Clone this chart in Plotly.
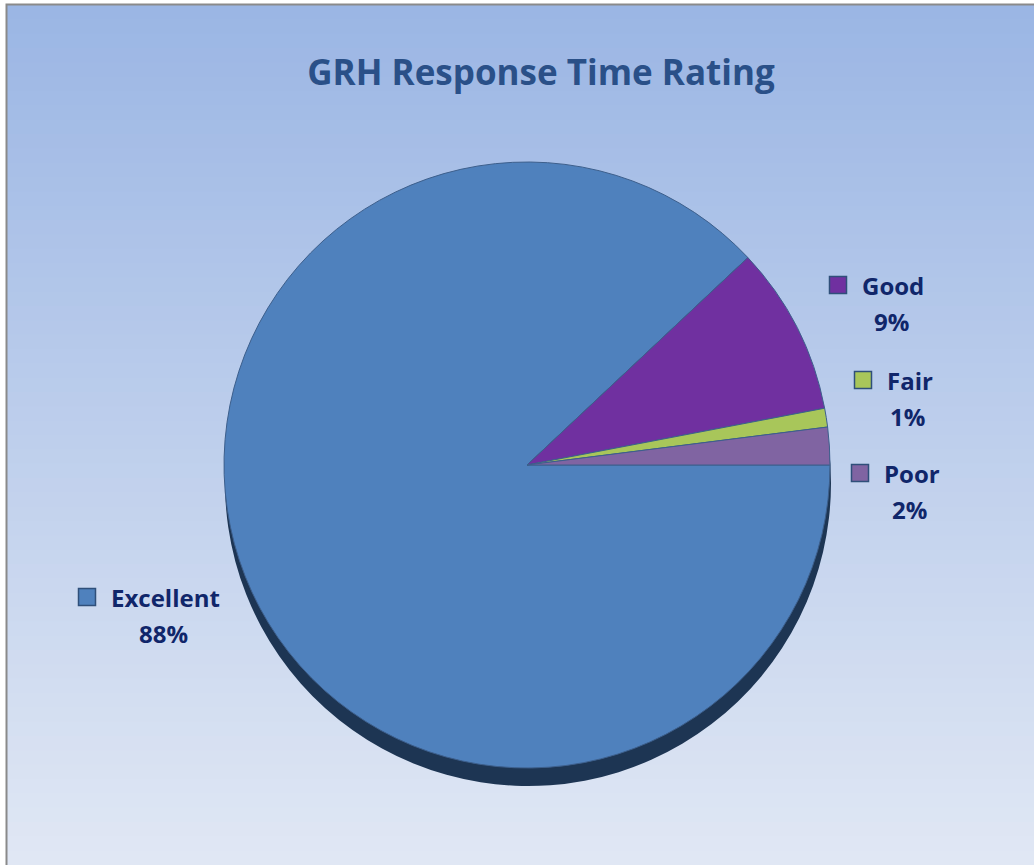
import plotly.graph_objects as go

# ---- data ----
categories = ["Excellent", "Good", "Fair", "Poor"]
values = [88, 9, 1, 2]
slice_colors = ["#4f81bd", "#7030a0", "#a8c65a", "#8064a2"]
pct_labels = ["88%", "9%", "1%", "2%"]

W, H = 1034, 865
CX, CY, R = 527, 465, 303      # pie centre / radius in px
DEPTH = 18                      # 3-D extrusion depth in px

def px_to_paper_x(x):
    return x / W

def px_to_paper_y(y):
    return 1 - y / H

# approximate advance widths (em) of Open Sans Bold, for centring the % line
CHAR_EM = {"E": .56, "x": .57, "c": .51, "e": .60, "l": .30, "n": .64, "t": .43,
           "G": .73, "o": .62, "d": .63, "F": .57, "a": .59, "i": .30, "r": .43, "P": .63}

def text_width(s, size):
    return sum(CHAR_EM.get(ch, .6) for ch in s) * size

fig = go.Figure()

# dark side (extrusion) of the 3-D pie
fig.add_trace(go.Pie(
    labels=categories, values=values, sort=False, direction="clockwise", rotation=90,
    marker=dict(colors=["#1d3553"] * 4, line=dict(width=0)),
    textinfo="none", hoverinfo="skip", showlegend=False,
    domain=dict(x=[px_to_paper_x(CX - R + 1), px_to_paper_x(CX + R + 1)],
                y=[px_to_paper_y(CY + DEPTH + R), px_to_paper_y(CY + DEPTH - R)]),
))

# top face
fig.add_trace(go.Pie(
    labels=categories, values=values, sort=False, direction="clockwise", rotation=90,
    marker=dict(colors=slice_colors, line=dict(color="#3d5f8c", width=1)),
    textinfo="none", showlegend=False,
    domain=dict(x=[px_to_paper_x(CX - R), px_to_paper_x(CX + R)],
                y=[px_to_paper_y(CY + R), px_to_paper_y(CY - R)]),
))

# gradient background bands
shapes = []
top = (155, 182, 228)
bot = (224, 231, 244)
n = 60
for i in range(n):
    t = i / (n - 1)
    c = tuple(round(top[k] + (bot[k] - top[k]) * t) for k in range(3))
    shapes.append(dict(type="rect", xref="paper", yref="paper", layer="below",
                       x0=px_to_paper_x(7), x1=1.01,
                       y0=px_to_paper_y(5 + (i + 1) * (H - 5) / n) - 0.002,
                       y1=px_to_paper_y(5 + i * (H - 5) / n),
                       fillcolor="rgb(%d,%d,%d)" % c, line=dict(width=0)))
# frame
shapes.append(dict(type="rect", xref="paper", yref="paper", layer="below",
                   x0=px_to_paper_x(6.5), x1=1.02, y0=-0.02, y1=px_to_paper_y(4.5),
                   line=dict(color="#8a8a8a", width=2), fillcolor="rgba(0,0,0,0)"))

# data labels with legend keys (Excel-style)
label_pos = {  # (key-square centre x, first-line y) in px
    "Excellent": (87, 597),
    "Good": (838, 285),
    "Fair": (863, 380),
    "Poor": (860, 473),
}
LINE = 36
FS = 24
font = dict(family="Open Sans, Lato, sans-serif", size=FS, color="#10266a")
annotations = []
for cat, col, pct in zip(categories, slice_colors, pct_labels):
    kx, ky = label_pos[cat]
    shapes.append(dict(type="rect", xref="paper", yref="paper",
                       x0=px_to_paper_x(kx - 8.5), x1=px_to_paper_x(kx + 8.5),
                       y0=px_to_paper_y(ky + 8.5), y1=px_to_paper_y(ky - 8.5),
                       fillcolor=col, line=dict(color="#2f4f7a", width=1.5)))
    tx = kx + 22
    annotations.append(dict(xref="paper", yref="paper", x=px_to_paper_x(tx),
                            y=px_to_paper_y(ky), xanchor="left", yanchor="middle",
                            text="<b>%s</b>" % cat, showarrow=False, font=font))
    annotations.append(dict(xref="paper", yref="paper",
                            x=px_to_paper_x(tx + text_width(cat, FS) / 2),
                            y=px_to_paper_y(ky + LINE), xanchor="center", yanchor="middle",
                            text="<b>%s</b>" % pct, showarrow=False, font=font))

fig.update_layout(
    width=W, height=H,
    margin=dict(l=0, r=0, t=0, b=0),
    paper_bgcolor="white", plot_bgcolor="white",
    title=dict(text="<b>GRH Response Time Rating</b>", x=541 / W, xanchor="center",
               y=px_to_paper_y(73), yanchor="middle",
               font=dict(family="Open Sans, Lato, sans-serif", size=35, color="#2a5088")),
    shapes=shapes, annotations=annotations,
)

fig.write_html("out.html", config={"displayModeBar": False},
               post_script="document.body.style.margin='0';document.body.style.padding='0';")
